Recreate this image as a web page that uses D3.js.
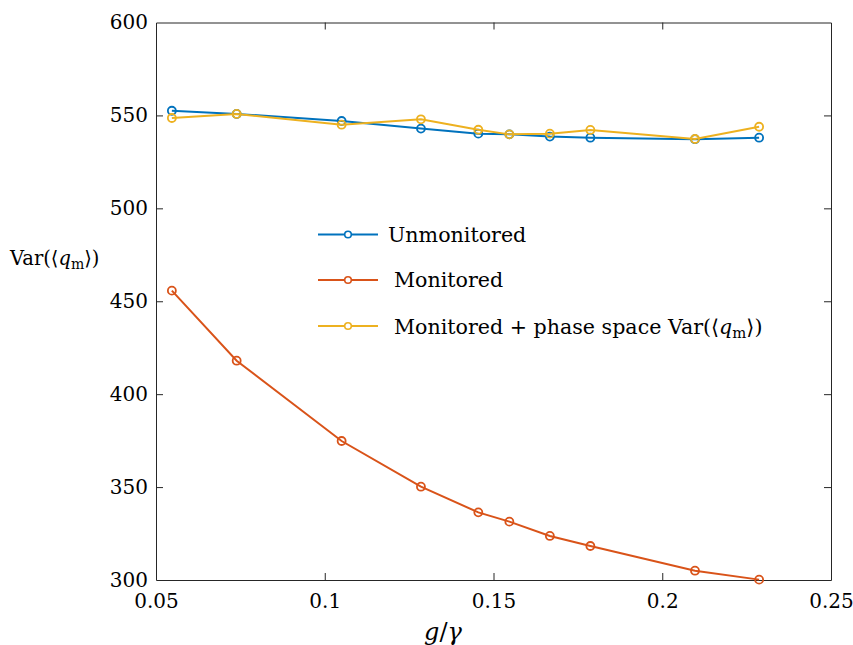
<!DOCTYPE html>
<html>
<head>
<meta charset="utf-8">
<script src="https://cdn.jsdelivr.net/npm/d3@7"></script>
<style>
  body { margin: 0; background: #fff; }
  svg text { font-family: "DejaVu Serif", "Liberation Serif", serif; fill: #000; }
</style>
</head>
<body>
<svg id="chart"></svg>
<script>
const width = 853;
const height = 645;
const margin = { top: 22.5, right: 22, bottom: 65, left: 156 };

// coupling ratio g/gamma
const gValues = [0.0547, 0.0739, 0.1050, 0.1285, 0.1455, 0.1547, 0.1667, 0.1787, 0.2097, 0.2287];
const unmonitored = [552.5, 550.8, 547.0, 542.9, 540.2, 539.8, 538.6, 538.0, 537.2, 538.0];
const monitored = [455.7, 418.0, 374.8, 350.2, 336.4, 331.4, 323.7, 318.3, 305.0, 300.2];
const monitoredPhase = [548.6, 550.8, 545.0, 547.9, 542.3, 539.8, 540.2, 542.2, 537.3, 543.9];

const xTicks = [0.05, 0.1, 0.15, 0.2, 0.25];
const yTicks = [300, 350, 400, 450, 500, 550, 600];

const seriesNames = ["Unmonitored", "Monitored", "Monitored + phase space"];
const colors = ["#0072BD", "#D95319", "#EDB120"];

const series = [unmonitored, monitored, monitoredPhase].map((vals, i) => ({
  name: seriesNames[i],
  color: colors[i],
  points: vals.map((v, j) => [gValues[j], v])
}));

const svg = d3.select("#chart")
  .attr("width", width)
  .attr("height", height);

const x = d3.scaleLinear()
  .domain([0.05, 0.25])
  .range([margin.left, width - margin.right]);

const y = d3.scaleLinear()
  .domain([300, 600])
  .range([height - margin.bottom, margin.top]);

const axisColor = "#262626";
const tickLen = 7;

// axes with inward ticks on every side (boxed)
const xAxisBottom = svg.append("g")
  .attr("transform", `translate(0, ${y(300)})`)
  .call(d3.axisBottom(x).tickValues(xTicks).tickSizeInner(-tickLen).tickSizeOuter(0)
    .tickFormat(d => String(+d.toFixed(2))).tickPadding(14));

const xAxisTop = svg.append("g")
  .attr("transform", `translate(0, ${y(600)})`)
  .call(d3.axisTop(x).tickValues(xTicks).tickSizeInner(-tickLen).tickSizeOuter(0).tickFormat(""));

const yAxisLeft = svg.append("g")
  .attr("transform", `translate(${x(0.05)}, 0)`)
  .call(d3.axisLeft(y).tickValues(yTicks).tickSizeInner(-tickLen).tickSizeOuter(0).tickPadding(8));

const yAxisRight = svg.append("g")
  .attr("transform", `translate(${x(0.25)}, 0)`)
  .call(d3.axisRight(y).tickValues(yTicks).tickSizeInner(-tickLen).tickSizeOuter(0).tickFormat(""));

const axes = [xAxisBottom, xAxisTop, yAxisLeft, yAxisRight];
axes.forEach(g => {
  g.select(".domain").attr("stroke", axisColor).attr("stroke-width", 1);
  g.selectAll(".tick line").attr("stroke", axisColor).attr("stroke-width", 1);
  g.selectAll(".tick text").attr("font-size", 20).attr("fill", "#000")
    .style("font-family", "'DejaVu Serif', serif");
});
xAxisBottom.selectAll(".tick text").attr("dy", "0.71em");

// drop the tick marks that would sit on the box corners
[xAxisBottom, xAxisTop].forEach(g => g.selectAll(".tick line").filter(d => d === 0.05 || d === 0.25).remove());
[yAxisLeft, yAxisRight].forEach(g => g.selectAll(".tick line").filter(d => d === 300 || d === 600).remove());

// data lines
const line = d3.line().x(d => x(d[0])).y(d => y(d[1]));

series.forEach(s => {
  svg.append("path")
    .datum(s.points)
    .attr("fill", "none")
    .attr("stroke", s.color)
    .attr("stroke-width", 2)
    .attr("d", line);

  svg.selectAll(null)
    .data(s.points)
    .enter()
    .append("circle")
    .attr("cx", d => x(d[0]))
    .attr("cy", d => y(d[1]))
    .attr("r", 4)
    .attr("fill", "none")
    .attr("stroke", s.color)
    .attr("stroke-width", 1.8);
});

// writes Var(<q_m>) as tspans into a text element
function varLabel(t) {
  t.append("tspan").text("Var(⟨");
  t.append("tspan").attr("font-style", "italic").text("q");
  t.append("tspan").attr("font-size", "0.72em").attr("dy", "0.25em").text("m");
  t.append("tspan").attr("dy", "-0.18em").text("⟩)");
}

// legend
const legendRows = [
  { y: 234.5, textX: 388, base: 241.5 },
  { y: 280, textX: 394, base: 287 },
  { y: 326, textX: 394, base: 334 }
];

const legend = svg.append("g");
series.forEach((s, i) => {
  const row = legendRows[i];
  legend.append("line")
    .attr("x1", 318).attr("x2", 378)
    .attr("y1", row.y).attr("y2", row.y)
    .attr("stroke", s.color).attr("stroke-width", 2);
  legend.append("circle")
    .attr("cx", 348).attr("cy", row.y).attr("r", 3.3)
    .attr("fill", "#fff").attr("stroke", s.color).attr("stroke-width", 1.6);
  const t = legend.append("text")
    .attr("x", row.textX).attr("y", row.base)
    .attr("font-size", 20.6);
  if (i === 2) {
    t.append("tspan").text(s.name + " ");
    varLabel(t);
  } else {
    t.text(s.name);
  }
});

// axis titles
const yTitle = svg.append("text")
  .attr("x", 10).attr("y", 265)
  .attr("font-size", 19.5);
varLabel(yTitle);

const xTitle = svg.append("text")
  .attr("x", 443).attr("y", 640)
  .attr("text-anchor", "middle")
  .attr("font-size", 24);
xTitle.append("tspan").attr("font-style", "italic").text("g");
xTitle.append("tspan").text("/");
xTitle.append("tspan").attr("font-style", "italic").text("γ");
</script>
</body>
</html>
